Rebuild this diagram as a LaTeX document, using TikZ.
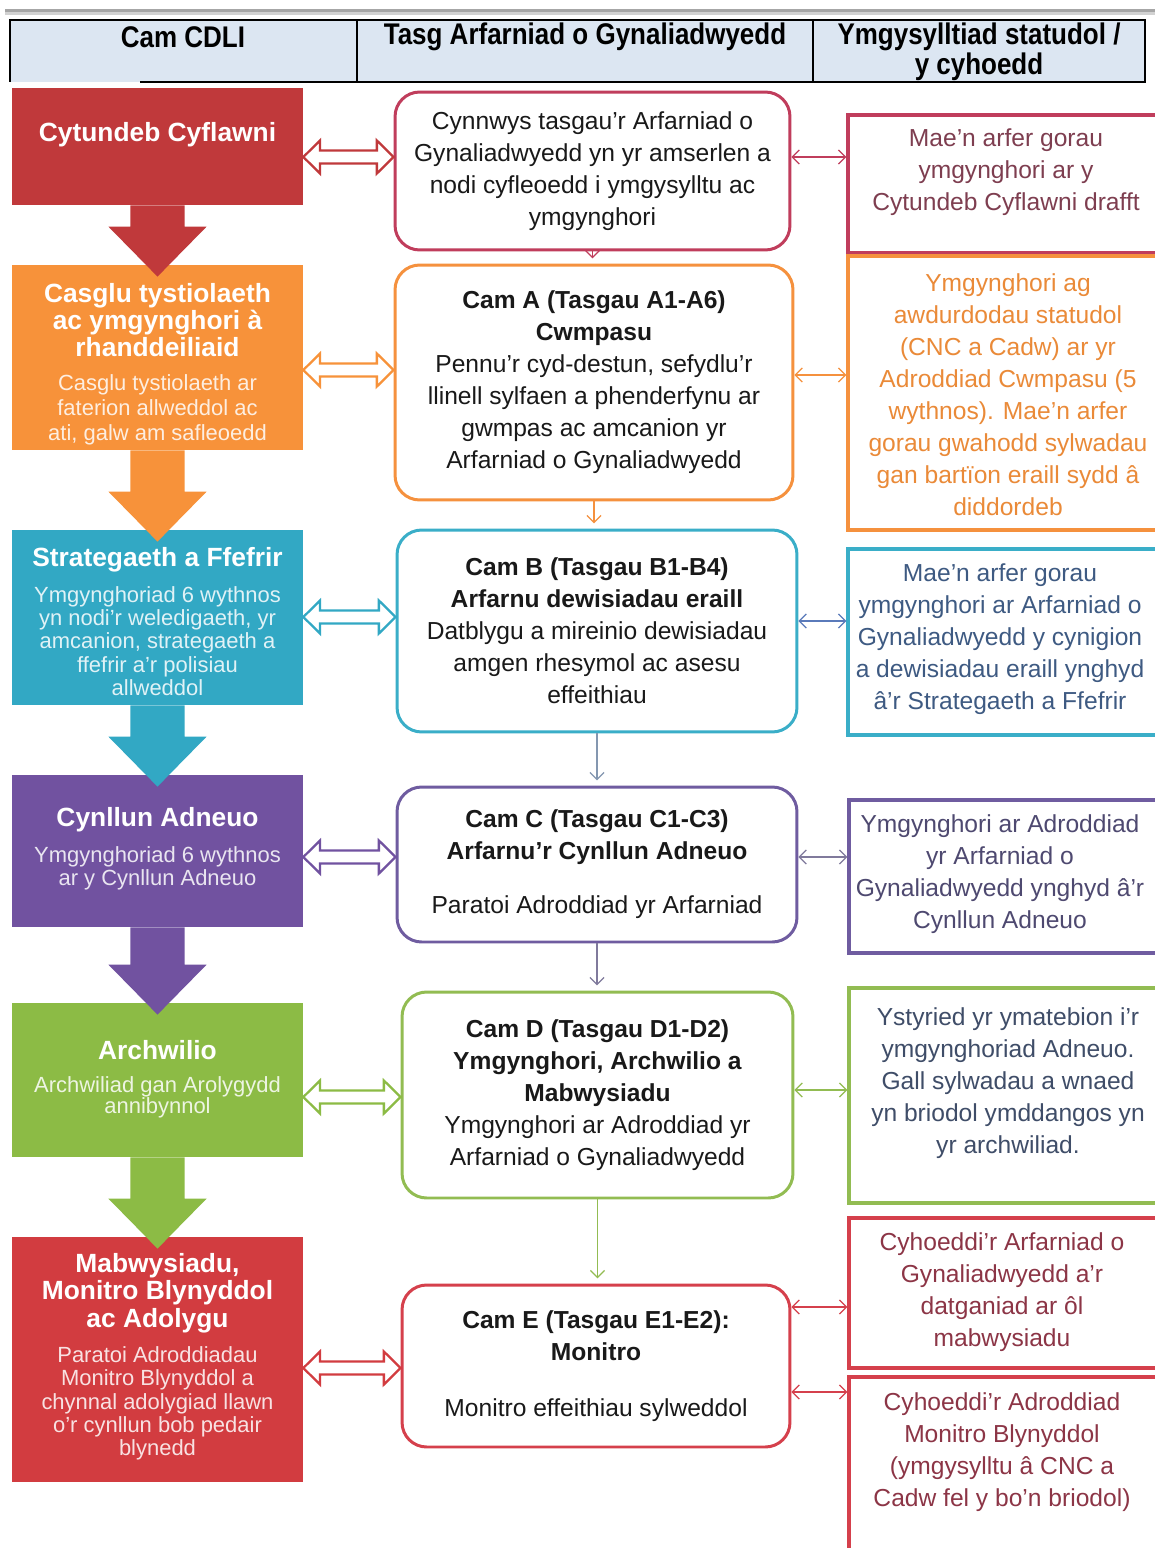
\documentclass[tikz,border=0pt]{standalone}
\usepackage{fontspec}
\setmainfont{Liberation Sans}
\newfontfamily\hdrfont[FakeStretch=0.87]{Liberation Sans}
\usepackage{tikz}
\usetikzlibrary{arrows.meta,positioning,calc}

\definecolor{hdrblue}{HTML}{DCE6F2}
\definecolor{cred}{HTML}{C0393B}
\definecolor{corange}{HTML}{F7923A}
\definecolor{cblue}{HTML}{32A8C4}
\definecolor{cpurple}{HTML}{7152A0}
\definecolor{cgreen}{HTML}{8CBB45}
\definecolor{cred2}{HTML}{D23C40}
\definecolor{bcrim}{HTML}{C03D5C}
\definecolor{borange}{HTML}{F5913E}
\definecolor{bblue}{HTML}{3AAEC8}
\definecolor{bpurple}{HTML}{6F5CA0}
\definecolor{bgreen}{HTML}{92BC52}
\definecolor{bred}{HTML}{D5404C}
\definecolor{tcrim}{HTML}{7E3E50}
\definecolor{torange}{HTML}{EA8A38}
\definecolor{tblue}{HTML}{3E5A82}
\definecolor{tpurple}{HTML}{4E4970}
\definecolor{tslate}{HTML}{3F4D68}
\definecolor{tred}{HTML}{8C3546}
\definecolor{ablue}{HTML}{5A7ABA}
\definecolor{agray}{HTML}{8497B0}
\definecolor{apurple}{HTML}{807A9C}

\tikzset{
  lbox/.style={rectangle, minimum width=5.82cm, inner sep=0pt},
  ltitle/.style={text=white, font=\fontsize{15}{15.6}\selectfont\bfseries, align=center, inner sep=0pt},
  lsub/.style={text=white, text opacity=0.85, font=\fontsize{12.5}{13.3}\selectfont, align=center, inner sep=0pt},
  tbox/.style={rectangle, rounded corners=14pt, draw, line width=1.7pt, fill=white, align=center, inner sep=0pt,
    text=black!90, font=\fontsize{14}{18.2}\selectfont},
  rbox/.style={rectangle, draw, line width=2pt, fill=white, minimum width=6.28cm, inner sep=0pt},
  rtext/.style={align=center, font=\fontsize{14}{18.2}\selectfont, inner sep=0pt},
  hdr/.style={font=\hdrfont\bfseries\fontsize{17}{17}\selectfont, align=center, inner sep=0pt},
  linkarrow/.style={line width=0.7pt, {Straight Barb[length=4pt,width=8pt]}-{Straight Barb[length=4pt,width=8pt]}},
  steparrow/.style={line width=0.7pt, -{Straight Barb[length=4pt,width=8pt]}, shorten >=3pt},
}

% hollow two-way arrow: stage box, task box, y, colour
\newcommand{\dblarrow}[4]{%
  \path (0,#3) coordinate (dbl@y);
  \draw[#4, line width=1.3pt, fill=white] let \p1=(#1.east), \p2=(#2.west), \p3=(dbl@y) in
    (\x1,\y3) -- (\x1+9.5pt,\y3+9.4pt) -- (\x1+9.5pt,\y3+3.7pt) -- (\x2-9.5pt,\y3+3.7pt)
    -- (\x2-9.5pt,\y3+9.4pt) -- (\x2,\y3) -- (\x2-9.5pt,\y3-9.4pt) -- (\x2-9.5pt,\y3-3.7pt)
    -- (\x1+9.5pt,\y3-3.7pt) -- (\x1+9.5pt,\y3-9.4pt) -- cycle;}
% solid down arrow between stage boxes
\newcommand{\blockarrow}[3]{%
  \fill[#3] let \p1=(#1.south), \p2=(#2.north) in
    (\x1-15.4pt,\y1) -- (\x1-15.4pt,\y2+21.6pt) -- (\x1-27.9pt,\y2+21.6pt) -- (\x1,\y2-6.8pt)
    -- (\x1+27.9pt,\y2+21.6pt) -- (\x1+15.4pt,\y2+21.6pt) -- (\x1+15.4pt,\y1) -- cycle;}

\begin{document}
\begin{tikzpicture}[x=0.02cm, y=-0.02cm]
\useasboundingbox (0,0) rectangle (1155,1548);
\clip (0,0) rectangle (1155,1548);
\fill[white] (0,0) rectangle (1155,1548);

% --- header ---
\draw[gray!70, line width=1.4pt] (5,10.5) -- (1155,10.5);
\draw[gray!35, line width=1.2pt] (5,13.5) -- (1155,13.5);
\fill[hdrblue] (10,20) rectangle (1145,82);
\draw[line width=0.8pt] (10,82) -- (10,20) -- (1145,20) -- (1145,82) -- (140,82);
\draw[line width=0.8pt] (357,20) -- (357,82) (813,20) -- (813,82);
\node[hdr] (h1) at (183,37) {Cam CDLI};
\node[hdr] (h2) at (585,37) {Tasg Arfarniad o Gynaliadwyedd};
\node[hdr] (h3) at (979,52) {Ymgysylltiad statudol /\\y cyhoedd};

% --- CDLI stages ---
\node[lbox, fill=cred, minimum height=2.34cm] (l1) at (157.5,146.5) {};
\node[lbox, fill=corange, minimum height=3.7cm] (l2) at (157.5,357.5) {};
\node[lbox, fill=cblue, minimum height=3.5cm] (l3) at (157.5,617.5) {};
\node[lbox, fill=cpurple, minimum height=3.04cm] (l4) at (157.5,851) {};
\node[lbox, fill=cgreen, minimum height=3.08cm] (l5) at (157.5,1080) {};
\node[lbox, fill=cred2, minimum height=4.9cm] (l6) at (157.5,1359.5) {};

\foreach \fa/\fb/\fc in {l1/l2/cred, l2/l3/corange, l3/l4/cblue, l4/l5/cpurple, l5/l6/cgreen}
  \blockarrow{\fa}{\fb}{\fc};

\node[ltitle] (l1t) at (157.5,135) {Cytundeb Cyflawni};
\node[ltitle] (l2t) at (157.5,320) {Casglu tystiolaeth\\ac ymgynghori à\\rhanddeiliaid};
\node[lsub, font=\fontsize{12.5}{14.2}\selectfont] (l2s) at (157.5,410) {Casglu tystiolaeth ar\\faterion allweddol ac\\ati, galw am safleoedd};
\node[ltitle] (l3t) at (157.5,560) {Strategaeth a Ffefrir};
\node[lsub] (l3s) at (157.5,641) {Ymgynghoriad 6 wythnos\\yn nodi'r weledigaeth, yr\\amcanion, strategaeth a\\ffefrir a'r polisiau\\allweddol};
\node[ltitle] (l4t) at (157.5,820) {Cynllun Adneuo};
\node[lsub] (l4s) at (157.5,868.5) {Ymgynghoriad 6 wythnos\\ar y Cynllun Adneuo};
\node[ltitle] (l5t) at (157.5,1050) {Archwilio};
\node[lsub, font=\fontsize{12.5}{12.2}\selectfont] (l5s) at (157.5,1097.5) {Archwiliad gan Arolygydd\\annibynnol};
\node[ltitle] (l6t) at (157.5,1293) {Mabwysiadu,\\Monitro Blynyddol\\ac Adolygu};
\node[lsub] (l6s) at (157.5,1403.5) {Paratoi Adroddiadau\\Monitro Blynyddol a\\chynnal adolygiad llawn\\o'r cynllun bob pedair\\blynedd};

% --- SA tasks ---
\node[tbox, draw=bcrim, minimum width=7.9cm, minimum height=3.16cm] (m1) at (592.5,171)
  {Cynnwys tasgau'r Arfarniad o\\Gynaliadwyedd yn yr amserlen a\\nodi cyfleoedd i ymgysylltu ac\\ymgynghori};
\node[tbox, draw=borange, minimum width=7.96cm, minimum height=4.7cm] (m2) at (594,382.5)
  {\textbf{Cam A (Tasgau A1-A6)}\\\textbf{Cwmpasu}\\Pennu'r cyd-destun, sefydlu'r\\llinell sylfaen a phenderfynu ar\\gwmpas ac amcanion yr\\Arfarniad o Gynaliadwyedd};
\node[tbox, draw=bblue, minimum width=8cm, minimum height=4.04cm] (m3) at (597,631)
  {\textbf{Cam B (Tasgau B1-B4)}\\\textbf{Arfarnu dewisiadau eraill}\\Datblygu a mireinio dewisiadau\\amgen rhesymol ac asesu\\effeithiau};
\node[tbox, draw=bpurple, minimum width=8cm, minimum height=3.1cm] (m4) at (597,864.5)
  {\textbf{Cam C (Tasgau C1-C3)}\\\textbf{Arfarnu'r Cynllun Adneuo}\\[12.5pt]Paratoi Adroddiad yr Arfarniad};
\node[tbox, draw=bgreen, minimum width=7.82cm, minimum height=4.12cm] (m5) at (597.5,1095)
  {\textbf{Cam D (Tasgau D1-D2)}\\\textbf{Ymgynghori, Archwilio a}\\\textbf{Mabwysiadu}\\Ymgynghori ar Adroddiad yr\\Arfarniad o Gynaliadwyedd};
\node[tbox, draw=bred, minimum width=7.76cm, minimum height=3.24cm] (m6) at (596,1366)
  {\textbf{Cam E (Tasgau E1-E2):}\\\textbf{Monitro}\\[14pt]Monitro effeithiau sylweddol};

\draw[steparrow, bcrim] (m1.south) -- (m1.south |- m2.north);
\draw[steparrow, borange] (m2.south) -- (m2.south |- m3.north);
\draw[steparrow, agray] (m3.south) -- (m4.north);
\draw[steparrow, apurple] (m4.south) -- (m4.south |- m5.north);
\draw[steparrow, bgreen] (m5.south) -- (m5.south |- m6.north);

% --- statutory / public engagement ---
\node[rbox, draw=bcrim, minimum height=2.76cm] (r1) at (1005,184) {};
\node[rbox, draw=borange, minimum height=5.48cm] (r2) at (1005,393) {};
\node[rbox, draw=bblue, minimum height=3.72cm] (r3) at (1005,642) {};
\node[rbox, draw=bpurple, minimum height=3.06cm] (r4) at (1006,876.5) {};
\node[rbox, draw=bgreen, minimum height=4.3cm] (r5) at (1006,1095.5) {};
\node[rbox, draw=bred, minimum height=3.0cm] (r6) at (1006,1293) {};
\node[rbox, draw=bred, minimum height=3.66cm] (r7) at (1006,1468.5) {};

\node[rtext, text=tcrim] (r1t) at (1006,172) {Mae'n arfer gorau\\ymgynghori ar y\\Cytundeb Cyflawni drafft};
\node[rtext, text=torange] (r2t) at (1008,395) {Ymgynghori ag\\awdurdodau statudol\\(CNC a Cadw) ar yr\\Adroddiad Cwmpasu (5\\wythnos). Mae'n arfer\\gorau gwahodd sylwadau\\gan bartïon eraill sydd â\\diddordeb};
\node[rtext, text=tblue] (r3t) at (1000,639) {Mae'n arfer gorau\\ymgynghori ar Arfarniad o\\Gynaliadwyedd y cynigion\\a dewisiadau eraill ynghyd\\â'r Strategaeth a Ffefrir};
\node[rtext, text=tpurple] (r4t) at (1000,874) {Ymgynghori ar Adroddiad\\yr Arfarniad o\\Gynaliadwyedd ynghyd â'r\\Cynllun Adneuo};
\node[rtext, text=tslate] (r5t) at (1008,1083) {Ystyried yr ymatebion i'r\\ymgynghoriad Adneuo.\\Gall sylwadau a wnaed\\yn briodol ymddangos yn\\yr archwiliad.};
\node[rtext, text=tred] (r6t) at (1002,1292) {Cyhoeddi'r Arfarniad o\\Gynaliadwyedd a'r\\datganiad ar ôl\\mabwysiadu};
\node[rtext, text=tred] (r7t) at (1002,1452) {Cyhoeddi'r Adroddiad\\Monitro Blynyddol\\(ymgysylltu â CNC a\\Cadw fel y bo'n briodol)};

% --- links ---
\foreach \fa/\fb/\fy/\fc in {l1/m1/157/cred, l2/m2/370/corange, l3/m3/617/cblue,
                          l4/m4/857/cpurple, l5/m5/1097/cgreen, l6/m6/1368/cred2}
  \dblarrow{\fa}{\fb}{\fy}{\fc};

\foreach \fa/\fb/\fy/\fc in {m1/r1/157/bcrim, m2/r2/375/borange, m3/r3/621/ablue,
                          m4/r4/857/apurple, m5/r5/1090/bgreen, m6/r6/1307/bred, m6/r7/1392/bred}
  \draw[linkarrow, \fc] (\fa.east |- 0,\fy) -- (\fb.west |- 0,\fy);
\end{tikzpicture}
\end{document}
